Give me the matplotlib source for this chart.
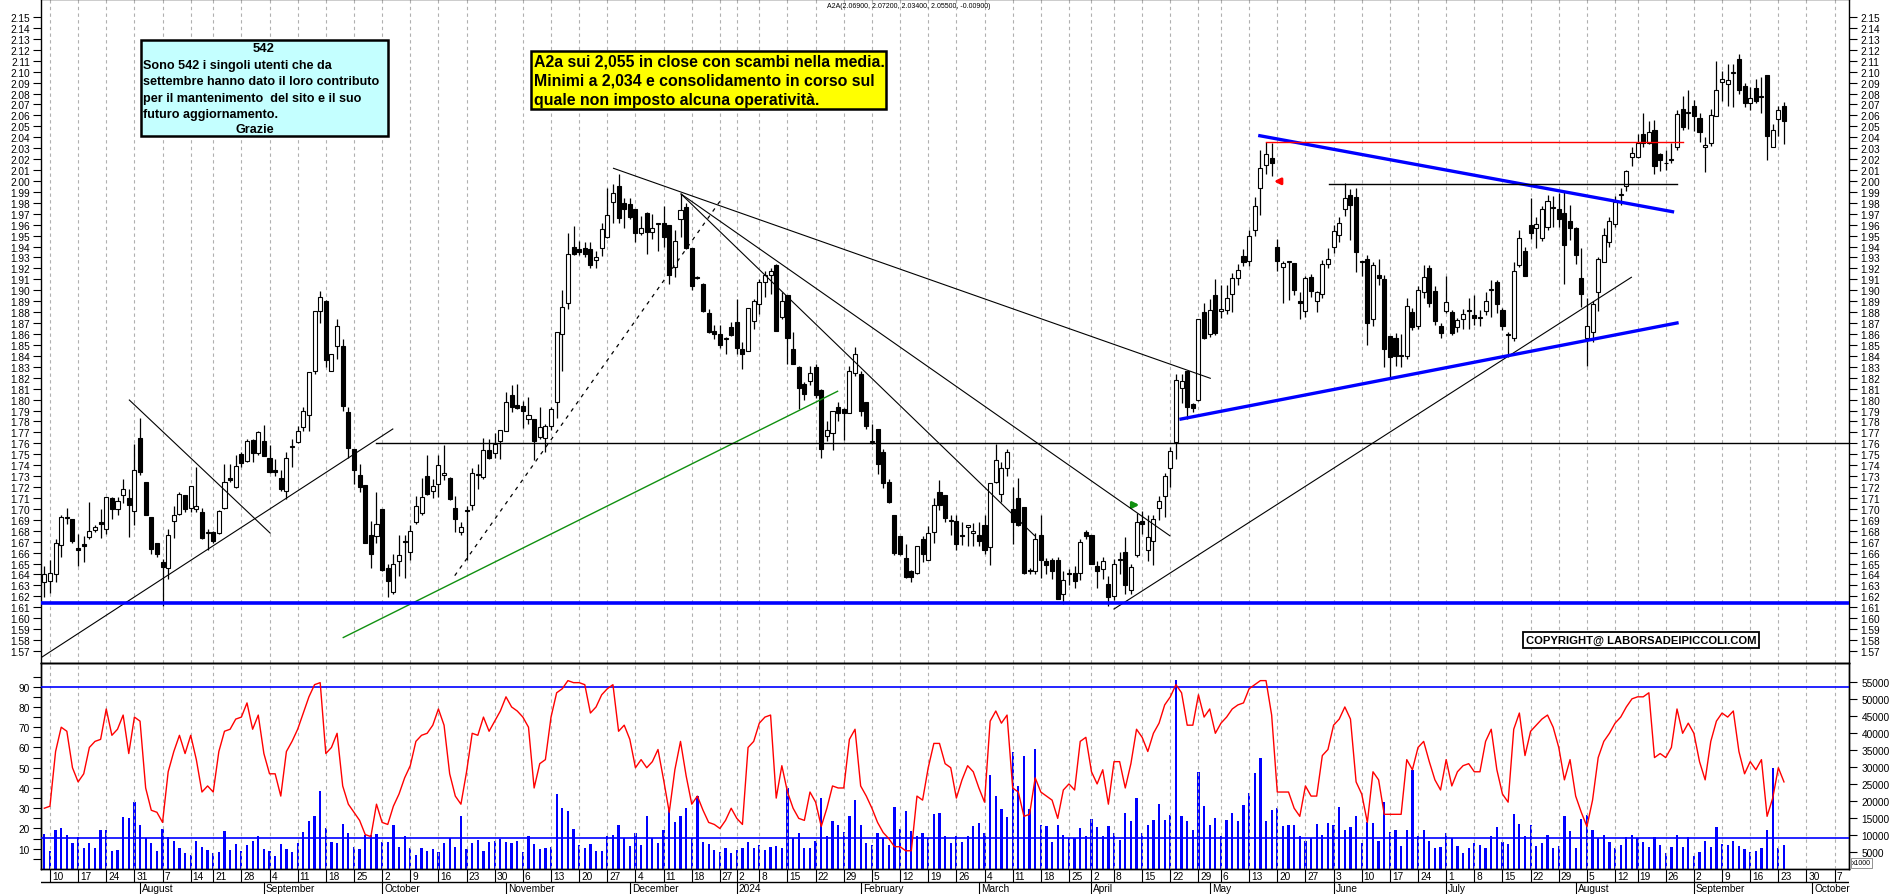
import numpy as np
import matplotlib
matplotlib.use("Agg")
import matplotlib.pyplot as plt

W, H = 1890, 895

# Daily candles, one per trading day (index 0 = 7 Jul 2023, last = 24 Sep 2024)
opens = [
    1.633, 1.634, 1.640, 1.667, 1.692, 1.691, 1.664, 1.668, 1.674, 1.681,
    1.688, 1.682, 1.710, 1.700, 1.713, 1.710, 1.698, 1.765, 1.725, 1.693,
    1.669, 1.651, 1.646, 1.689, 1.695, 1.713, 1.701, 1.700, 1.697, 1.678,
    1.679, 1.678, 1.701, 1.728, 1.720, 1.750, 1.744, 1.763, 1.751, 1.762,
    1.747, 1.736, 1.728, 1.716, 1.757, 1.761, 1.775, 1.786, 1.826, 1.881,
    1.890, 1.826, 1.849, 1.849, 1.789, 1.755, 1.731, 1.722, 1.676, 1.675,
    1.700, 1.646, 1.624, 1.652, 1.670, 1.661, 1.688, 1.696, 1.730, 1.716,
    1.723, 1.731, 1.728, 1.701, 1.679, 1.699, 1.704, 1.731, 1.729, 1.754,
    1.751, 1.762, 1.771, 1.804, 1.795, 1.794, 1.782, 1.782, 1.766, 1.765,
    1.776, 1.798, 1.860, 1.888, 1.940, 1.938, 1.939, 1.938, 1.928, 1.939,
    1.949, 1.981, 1.995, 1.980, 1.979, 1.974, 1.952, 1.971, 1.953, 1.961,
    1.962, 1.960, 1.921, 1.965, 1.976, 1.939, 1.912, 1.906, 1.879, 1.863,
    1.860, 1.855, 1.866, 1.871, 1.846, 1.844, 1.872, 1.887, 1.908, 1.914,
    1.923, 1.876, 1.896, 1.846, 1.830, 1.814, 1.817, 1.830, 1.809, 1.767,
    1.769, 1.793, 1.791, 1.788, 1.824, 1.823, 1.798, 1.761, 1.773, 1.752,
    1.725, 1.694, 1.675, 1.655, 1.643, 1.641, 1.672, 1.653, 1.679, 1.715,
    1.713, 1.689, 1.689, 1.676, 1.683, 1.678, 1.676, 1.685, 1.665, 1.725,
    1.714, 1.737, 1.700, 1.710, 1.702, 1.644, 1.643, 1.676, 1.652, 1.653,
    1.653, 1.622, 1.640, 1.641, 1.641, 1.679, 1.676, 1.648, 1.645, 1.631,
    1.620, 1.653, 1.661, 1.626, 1.658, 1.689, 1.662, 1.671, 1.701, 1.712,
    1.737, 1.761, 1.811, 1.826, 1.796, 1.800, 1.880, 1.860, 1.896, 1.881,
    1.882, 1.897, 1.911, 1.931, 1.927, 1.955, 1.994, 2.015, 2.021, 1.940,
    1.921, 1.926, 1.925, 1.890, 1.881, 1.912, 1.890, 1.897, 1.924, 1.940,
    1.951, 1.974, 1.987, 1.985, 1.926, 1.929, 1.874, 1.914, 1.910, 1.858,
    1.856, 1.841, 1.840, 1.880, 1.867, 1.898, 1.920, 1.899, 1.867, 1.881,
    1.880, 1.866, 1.874, 1.881, 1.877, 1.875, 1.881, 1.900, 1.908, 1.882,
    1.859, 1.856, 1.923, 1.936, 1.960, 1.957, 1.948, 1.958, 1.975, 1.974,
    1.971, 1.963, 1.957, 1.911, 1.856, 1.862, 1.898, 1.926, 1.944, 1.961,
    1.987, 1.995, 2.022, 2.022, 2.043, 2.035, 2.047, 2.025, 2.016, 2.019,
    2.031, 2.066, 2.062, 2.069, 2.058, 2.031, 2.035, 2.059, 2.091, 2.089,
    2.099, 2.112, 2.087, 2.071, 2.085, 2.077, 2.097, 2.031, 2.057, 2.069,
]
highs = [
    1.648, 1.653, 1.672, 1.694, 1.701, 1.691, 1.677, 1.675, 1.706, 1.685,
    1.700, 1.711, 1.711, 1.711, 1.727, 1.718, 1.759, 1.783, 1.725, 1.693,
    1.669, 1.654, 1.682, 1.703, 1.715, 1.713, 1.721, 1.738, 1.701, 1.682,
    1.680, 1.699, 1.741, 1.741, 1.749, 1.752, 1.764, 1.764, 1.771, 1.777,
    1.758, 1.746, 1.736, 1.752, 1.764, 1.776, 1.793, 1.825, 1.881, 1.899,
    1.891, 1.842, 1.874, 1.855, 1.793, 1.755, 1.741, 1.722, 1.689, 1.715,
    1.700, 1.650, 1.659, 1.676, 1.676, 1.685, 1.712, 1.728, 1.749, 1.727,
    1.749, 1.758, 1.729, 1.712, 1.688, 1.703, 1.737, 1.741, 1.765, 1.764,
    1.769, 1.772, 1.807, 1.813, 1.814, 1.799, 1.802, 1.782, 1.793, 1.778,
    1.793, 1.862, 1.900, 1.952, 1.959, 1.945, 1.944, 1.944, 1.936, 1.962,
    1.994, 1.997, 2.006, 1.984, 1.984, 1.974, 1.968, 1.972, 1.970, 1.962,
    1.977, 1.960, 1.955, 1.988, 1.980, 1.939, 1.913, 1.907, 1.883, 1.868,
    1.868, 1.857, 1.871, 1.892, 1.853, 1.884, 1.892, 1.910, 1.918, 1.920,
    1.924, 1.898, 1.896, 1.862, 1.831, 1.816, 1.831, 1.833, 1.810, 1.780,
    1.790, 1.798, 1.792, 1.831, 1.848, 1.826, 1.798, 1.778, 1.773, 1.755,
    1.727, 1.694, 1.675, 1.668, 1.644, 1.666, 1.675, 1.684, 1.710, 1.726,
    1.713, 1.694, 1.694, 1.688, 1.685, 1.687, 1.688, 1.694, 1.724, 1.759,
    1.743, 1.755, 1.720, 1.728, 1.702, 1.646, 1.678, 1.694, 1.655, 1.655,
    1.656, 1.643, 1.645, 1.648, 1.672, 1.681, 1.676, 1.652, 1.656, 1.639,
    1.654, 1.661, 1.674, 1.650, 1.696, 1.698, 1.694, 1.694, 1.712, 1.733,
    1.757, 1.823, 1.823, 1.826, 1.797, 1.874, 1.888, 1.892, 1.910, 1.905,
    1.905, 1.916, 1.924, 1.938, 1.955, 1.985, 2.028, 2.036, 2.035, 1.947,
    1.927, 1.927, 1.925, 1.898, 1.913, 1.915, 1.899, 1.928, 1.939, 1.960,
    1.967, 1.998, 1.993, 1.994, 1.927, 1.932, 1.926, 1.929, 1.914, 1.858,
    1.861, 1.860, 1.893, 1.884, 1.904, 1.923, 1.923, 1.904, 1.870, 1.913,
    1.882, 1.875, 1.883, 1.893, 1.896, 1.882, 1.898, 1.909, 1.909, 1.884,
    1.862, 1.926, 1.955, 1.940, 1.984, 1.967, 1.977, 1.987, 1.986, 1.989,
    1.990, 1.978, 1.958, 1.939, 1.893, 1.890, 1.930, 1.957, 1.967, 1.986,
    1.994, 2.010, 2.031, 2.043, 2.062, 2.055, 2.056, 2.026, 2.028, 2.035,
    2.065, 2.078, 2.083, 2.074, 2.062, 2.040, 2.066, 2.110, 2.101, 2.107,
    2.107, 2.116, 2.090, 2.086, 2.093, 2.095, 2.097, 2.052, 2.069, 2.072,
]
lows = [
    1.619, 1.623, 1.633, 1.656, 1.686, 1.669, 1.648, 1.651, 1.672, 1.679,
    1.673, 1.677, 1.691, 1.694, 1.705, 1.674, 1.685, 1.731, 1.694, 1.659,
    1.656, 1.611, 1.636, 1.673, 1.694, 1.697, 1.697, 1.697, 1.672, 1.662,
    1.669, 1.677, 1.700, 1.725, 1.719, 1.738, 1.743, 1.743, 1.749, 1.748,
    1.733, 1.730, 1.716, 1.709, 1.738, 1.760, 1.771, 1.771, 1.823, 1.870,
    1.830, 1.826, 1.837, 1.790, 1.747, 1.723, 1.715, 1.669, 1.646, 1.669,
    1.643, 1.619, 1.622, 1.639, 1.637, 1.653, 1.686, 1.694, 1.713, 1.710,
    1.711, 1.726, 1.708, 1.679, 1.676, 1.653, 1.699, 1.718, 1.727, 1.746,
    1.747, 1.746, 1.771, 1.789, 1.791, 1.774, 1.778, 1.745, 1.764, 1.752,
    1.772, 1.783, 1.826, 1.883, 1.932, 1.932, 1.930, 1.920, 1.920, 1.931,
    1.948, 1.962, 1.962, 1.957, 1.965, 1.944, 1.951, 1.933, 1.947, 1.936,
    1.940, 1.906, 1.912, 1.949, 1.938, 1.900, 1.910, 1.880, 1.861, 1.855,
    1.847, 1.842, 1.858, 1.842, 1.828, 1.844, 1.865, 1.878, 1.894, 1.897,
    1.863, 1.874, 1.833, 1.833, 1.791, 1.800, 1.813, 1.801, 1.747, 1.762,
    1.754, 1.780, 1.763, 1.788, 1.822, 1.785, 1.773, 1.759, 1.732, 1.719,
    1.705, 1.658, 1.658, 1.637, 1.633, 1.640, 1.651, 1.653, 1.669, 1.699,
    1.688, 1.676, 1.662, 1.667, 1.666, 1.666, 1.666, 1.659, 1.649, 1.724,
    1.706, 1.730, 1.668, 1.684, 1.640, 1.640, 1.640, 1.637, 1.640, 1.636,
    1.618, 1.613, 1.630, 1.628, 1.635, 1.672, 1.650, 1.628, 1.636, 1.611,
    1.617, 1.640, 1.622, 1.622, 1.656, 1.677, 1.652, 1.649, 1.690, 1.693,
    1.720, 1.746, 1.797, 1.782, 1.789, 1.799, 1.855, 1.857, 1.859, 1.875,
    1.878, 1.880, 1.905, 1.922, 1.922, 1.950, 1.969, 2.006, 2.005, 1.918,
    1.888, 1.891, 1.896, 1.874, 1.876, 1.894, 1.880, 1.893, 1.920, 1.934,
    1.944, 1.968, 1.946, 1.917, 1.913, 1.850, 1.867, 1.905, 1.830, 1.820,
    1.831, 1.830, 1.837, 1.864, 1.865, 1.893, 1.885, 1.868, 1.856, 1.879,
    1.859, 1.862, 1.865, 1.865, 1.868, 1.867, 1.877, 1.876, 1.879, 1.864,
    1.839, 1.854, 1.921, 1.913, 1.947, 1.939, 1.945, 1.955, 1.958, 1.958,
    1.906, 1.946, 1.924, 1.885, 1.831, 1.853, 1.881, 1.926, 1.940, 1.958,
    1.978, 1.991, 2.014, 2.021, 2.031, 2.034, 2.006, 2.009, 2.010, 2.016,
    2.028, 2.047, 2.048, 2.046, 2.036, 2.008, 2.032, 2.059, 2.073, 2.069,
    2.068, 2.080, 2.068, 2.065, 2.071, 2.062, 2.019, 2.031, 2.041, 2.034,
]
closes = [
    1.640, 1.641, 1.669, 1.693, 1.692, 1.671, 1.662, 1.666, 1.680, 1.683,
    1.686, 1.711, 1.700, 1.707, 1.718, 1.704, 1.736, 1.734, 1.694, 1.663,
    1.659, 1.647, 1.676, 1.694, 1.714, 1.700, 1.721, 1.703, 1.673, 1.678,
    1.671, 1.698, 1.725, 1.726, 1.739, 1.742, 1.762, 1.751, 1.770, 1.748,
    1.734, 1.734, 1.718, 1.747, 1.757, 1.771, 1.790, 1.825, 1.881, 1.894,
    1.836, 1.842, 1.867, 1.794, 1.756, 1.736, 1.720, 1.669, 1.659, 1.686,
    1.644, 1.634, 1.650, 1.658, 1.670, 1.680, 1.703, 1.711, 1.714, 1.721,
    1.740, 1.733, 1.709, 1.691, 1.683, 1.698, 1.733, 1.731, 1.754, 1.747,
    1.759, 1.772, 1.798, 1.793, 1.792, 1.790, 1.786, 1.762, 1.775, 1.776,
    1.791, 1.862, 1.885, 1.933, 1.933, 1.935, 1.933, 1.923, 1.930, 1.956,
    1.969, 1.989, 1.966, 1.974, 1.967, 1.952, 1.957, 1.953, 1.957, 1.961,
    1.949, 1.914, 1.945, 1.973, 1.939, 1.904, 1.911, 1.881, 1.862, 1.860,
    1.850, 1.855, 1.859, 1.847, 1.842, 1.884, 1.890, 1.908, 1.914, 1.918,
    1.863, 1.890, 1.856, 1.833, 1.811, 1.805, 1.824, 1.804, 1.755, 1.772,
    1.790, 1.788, 1.788, 1.826, 1.842, 1.790, 1.776, 1.761, 1.741, 1.724,
    1.706, 1.660, 1.659, 1.638, 1.638, 1.666, 1.659, 1.678, 1.704, 1.704,
    1.692, 1.689, 1.668, 1.675, 1.685, 1.680, 1.671, 1.662, 1.724, 1.745,
    1.737, 1.752, 1.688, 1.685, 1.641, 1.643, 1.672, 1.653, 1.649, 1.643,
    1.618, 1.635, 1.641, 1.634, 1.670, 1.675, 1.650, 1.643, 1.652, 1.619,
    1.650, 1.653, 1.630, 1.647, 1.688, 1.686, 1.674, 1.691, 1.707, 1.730,
    1.753, 1.818, 1.817, 1.793, 1.792, 1.874, 1.856, 1.882, 1.861, 1.883,
    1.893, 1.911, 1.919, 1.926, 1.950, 1.977, 2.012, 2.025, 2.016, 1.927,
    1.925, 1.926, 1.900, 1.888, 1.911, 1.899, 1.898, 1.924, 1.929, 1.954,
    1.962, 1.984, 1.978, 1.935, 1.926, 1.870, 1.923, 1.911, 1.846, 1.839,
    1.840, 1.840, 1.886, 1.866, 1.900, 1.912, 1.888, 1.872, 1.861, 1.889,
    1.861, 1.873, 1.878, 1.881, 1.875, 1.875, 1.890, 1.901, 1.887, 1.867,
    1.859, 1.918, 1.948, 1.913, 1.952, 1.961, 1.974, 1.982, 1.975, 1.965,
    1.941, 1.957, 1.932, 1.897, 1.867, 1.887, 1.929, 1.951, 1.963, 1.981,
    1.987, 2.009, 2.026, 2.035, 2.035, 2.045, 2.014, 2.019, 2.016, 2.019,
    2.061, 2.049, 2.062, 2.059, 2.045, 2.033, 2.060, 2.083, 2.093, 2.092,
    2.099, 2.083, 2.071, 2.076, 2.073, 2.078, 2.041, 2.047, 2.065, 2.055,
]

# Lower panel: oscillator (left scale) and volume in thousands (right scale)
oscillator = [
    30, 31, 58, 70, 68, 50, 43, 47, 60, 63, 64, 79, 66, 69, 76, 57, 75, 73, 40, 29,
    28, 23, 48, 58, 66, 57, 66, 54, 38, 41, 38, 58, 68, 69, 74, 75, 82, 69, 76, 57,
    47, 47, 36, 58, 63, 69, 77, 85, 91, 92, 57, 60, 67, 41, 32, 28, 24, 17, 16, 32,
    23, 22, 31, 37, 45, 51, 63, 66, 67, 71, 79, 71, 47, 36, 32, 48, 67, 66, 75, 68,
    73, 78, 85, 80, 78, 75, 70, 40, 52, 54, 75, 87, 89, 93, 92, 92, 91, 77, 80, 86,
    89, 91, 68, 71, 64, 50, 54, 50, 53, 59, 44, 28, 49, 63, 46, 32, 36, 29, 23, 22,
    20, 24, 30, 25, 22, 60, 63, 72, 75, 76, 35, 51, 38, 30, 25, 24, 38, 33, 21, 30,
    41, 40, 40, 64, 69, 41, 36, 30, 23, 18, 15, 11, 11, 9, 9, 36, 34, 50, 62, 62,
    52, 50, 35, 44, 51, 48, 40, 33, 73, 78, 72, 76, 40, 38, 26, 27, 45, 38, 36, 34,
    25, 39, 42, 39, 63, 65, 48, 42, 49, 32, 53, 53, 40, 52, 69, 65, 58, 67, 72, 81,
    85, 91, 87, 71, 71, 86, 75, 79, 67, 72, 75, 79, 81, 82, 89, 91, 93, 93, 76, 38,
    38, 38, 30, 26, 41, 36, 36, 56, 59, 71, 74, 80, 74, 43, 37, 23, 48, 44, 27, 27,
    27, 27, 54, 49, 60, 63, 53, 44, 39, 54, 41, 48, 51, 52, 48, 48, 63, 69, 49, 37,
    33, 69, 77, 56, 68, 71, 74, 76, 70, 60, 44, 54, 36, 28, 21, 34, 55, 63, 67, 72,
    75, 80, 84, 85, 85, 87, 55, 57, 55, 60, 79, 67, 72, 67, 53, 44, 63, 73, 77, 75,
    78, 58, 47, 53, 49, 54, 26, 35, 50, 43,
]
volume_k = [
    10.2, 5.3, 11.6, 12.2, 10.0, 7.7, 9.4, 6.3, 7.6, 6.1,
    11.6, 11.6, 5.4, 5.6, 15.3, 15.1, 19.8, 13.0, 9.0, 7.7,
    5.4, 11.8, 9.3, 8.2, 6.3, 4.7, 4.1, 8.2, 6.6, 5.6,
    4.7, 4.9, 11.2, 5.7, 7.4, 5.3, 7.2, 8.3, 9.7, 5.9,
    5.4, 3.9, 7.4, 5.9, 5.1, 7.7, 10.8, 14.0, 15.7, 23.0,
    12.2, 7.9, 7.7, 13.2, 10.6, 6.5, 5.9, 10.0, 10.0, 10.2,
    8.0, 7.9, 13.0, 6.6, 9.6, 6.3, 4.1, 6.1, 5.4, 5.9,
    4.9, 7.6, 9.0, 6.6, 15.6, 5.9, 7.7, 8.6, 5.4, 7.8,
    8.1, 8.8, 7.9, 7.7, 8.2, 5.1, 9.8, 7.4, 5.9, 6.1,
    6.4, 22.1, 17.9, 17.0, 11.8, 7.2, 6.1, 7.3, 5.3, 5.4,
    9.6, 10.0, 12.8, 9.0, 6.9, 10.6, 7.1, 15.5, 9.0, 7.7,
    11.6, 17.8, 13.7, 15.5, 17.8, 9.0, 21.4, 7.9, 7.4, 5.7,
    4.9, 6.1, 4.7, 5.5, 6.3, 7.9, 6.3, 7.2, 5.6, 6.6,
    6.7, 6.1, 23.7, 9.0, 10.6, 6.1, 6.3, 8.2, 20.8, 9.6,
    14.0, 12.9, 11.0, 15.5, 20.3, 12.9, 7.7, 7.2, 10.5, 9.0,
    7.2, 18.1, 11.8, 17.2, 11.3, 9.6, 10.5, 9.1, 16.2, 16.4,
    9.8, 7.7, 9.8, 7.9, 9.6, 12.6, 13.5, 10.6, 27.7, 21.4,
    17.7, 15.4, 34.5, 24.3, 33.3, 17.7, 35.3, 12.9, 12.6, 8.0,
    12.9, 10.0, 9.0, 9.2, 12.0, 9.6, 14.7, 12.3, 9.6, 12.6,
    10.6, 8.6, 16.5, 14.2, 20.8, 10.6, 12.8, 14.5, 19.0, 14.5,
    15.9, 55.6, 15.5, 14.2, 11.6, 28.4, 18.4, 13.0, 14.9, 9.6,
    14.5, 16.4, 14.2, 18.8, 22.3, 28.1, 32.8, 14.2, 17.4, 17.9,
    12.6, 13.0, 13.0, 9.6, 8.3, 9.0, 13.2, 10.0, 13.5, 12.8,
    18.1, 11.5, 12.3, 15.5, 7.6, 13.9, 13.4, 8.3, 19.6, 10.8,
    11.6, 6.9, 11.6, 29.1, 9.6, 11.6, 8.3, 6.1, 6.4, 10.6,
    9.0, 6.9, 4.7, 6.1, 7.7, 7.2, 6.1, 9.6, 12.3, 7.8,
    7.4, 16.1, 13.2, 9.6, 12.8, 6.9, 7.6, 10.1, 6.2, 6.9,
    15.5, 11.1, 6.1, 14.7, 15.9, 11.5, 9.0, 10.0, 7.8, 6.1,
    7.1, 9.3, 10.0, 9.1, 8.0, 6.4, 9.3, 7.1, 4.7, 6.4,
    10.1, 6.4, 9.3, 3.7, 4.9, 8.3, 6.4, 12.3, 7.4, 7.2,
    8.1, 6.7, 5.9, 4.9, 5.4, 6.1, 11.5, 29.6, 6.2, 7.1,
]

# Week starts (candle index of the first session) and their day labels
week_idx = [1, 6, 11, 16, 21, 26, 30, 35, 40, 45, 50, 55, 60, 65, 70, 75, 80, 85,
            90, 95, 100, 105, 110, 115, 120, 123, 127, 132, 137, 142, 147, 152,
            157, 162, 167, 172, 177, 182, 186, 190, 195, 200, 205, 209, 214, 219,
            224, 229, 234, 239, 244, 249, 254, 259, 264, 269, 274, 279, 283, 288,
            293, 298, 303, 308, 313, 318]
week_lbl = ["10", "17", "24", "31", "7", "14", "21", "28", "4", "11", "18", "25",
            "2", "9", "16", "23", "30", "6", "13", "20", "27", "4", "11", "18",
            "27", "2", "8", "15", "22", "29", "5", "12", "19", "26", "4", "11",
            "18", "25", "2", "8", "15", "22", "29", "6", "13", "20", "27", "3",
            "10", "17", "24", "1", "8", "15", "22", "29", "5", "12", "19", "26",
            "2", "9", "16", "23", "30", "7"]
month_idx = [17, 39, 60, 82, 104, 123, 145, 166, 186, 207, 229, 249, 272, 293, 314]
month_lbl = ["August", "September", "October", "November", "December", "2024",
             "February", "March", "April", "May", "June", "July", "August",
             "September", "October"]

# Drawn studies: (start index, start price, end index, end price)
thin_lines = [
    (-0.4, 1.5645, 61.9, 1.7731),
    (15.1, 1.7996, 40.1, 1.6779),
    (101.1, 2.0116, 207.1, 1.8195),
    (113.1, 1.9881, 175.9, 1.6755),
    (113.1, 1.9881, 199.9, 1.6755),
    (190.0, 1.6084, 281.9, 1.9119),
]
green_line = (53.1, 1.5823, 140.9, 1.8076)
dashed_line = (72.9, 1.6389, 120.0, 1.9814)
blue_lines = [(215.9, 2.0414, 289.2, 1.9719), (201.9, 1.7822, 290.0, 1.8701)]
support = 1.614
resistance_176 = (58.9, 1.760)
level_200 = (228.1, 290.0, 1.9972)
level_2035 = (217.0, 291.0, 2.0354)

plt.rcParams["font.family"] = ["Liberation Sans", "DejaVu Sans"]


def fx(px):
    return px / W


def fy(py):
    return 1 - py / H


XMIN, XMAX = -0.59, 320.55
idx = np.arange(len(closes))
o, h, l, c = map(np.array, (opens, highs, lows, closes))

fig = plt.figure(figsize=(W / 100, H / 100), dpi=100)
ax = fig.add_axes([fx(41), fy(664), (1849 - 41) / W, 664 / H])
low = fig.add_axes([fx(41), fy(870), (1849 - 41) / W, (870 - 664) / H])
vol = low.twinx()
dates = fig.add_axes([fx(41), fy(895), (1849 - 41) / W, 25 / H])

grid_kw = dict(color="#b0b0b0", lw=0.8, ls=(0, (3, 3)), zorder=0)

# ---- price panel
for k in week_idx:
    ax.axvline(k, **grid_kw)
    low.axvline(k, **grid_kw)

ax.vlines(idx, l, h, color="black", lw=0.9, zorder=3)
up = c >= o
body = np.maximum(np.abs(c - o), 0.0009)
ax.bar(idx[up], body[up], bottom=o[up], width=0.72, color="white",
       edgecolor="black", lw=0.8, zorder=4)
ax.bar(idx[~up], body[~up], bottom=c[~up], width=0.72, color="black",
       edgecolor="black", lw=0.8, zorder=4)

for x0, y0, x1, y1 in thin_lines:
    ax.plot([x0, x1], [y0, y1], color="black", lw=0.8, zorder=5)
ax.plot(green_line[::2], green_line[1::2], color="#109010", lw=1.0, zorder=5)
ax.plot(dashed_line[::2], dashed_line[1::2], color="black", lw=0.9,
        ls=(0, (3, 4)), zorder=5)
for x0, y0, x1, y1 in blue_lines:
    ax.plot([x0, x1], [y0, y1], color="#0000ff", lw=2.4, zorder=5)
ax.axhline(support, color="#0000ff", lw=2.6, zorder=5)
ax.plot([resistance_176[0], XMAX], [resistance_176[1]] * 2, color="black", lw=1.0, zorder=5)
ax.plot(level_200[:2], [level_200[2]] * 2, color="black", lw=1.0, zorder=5)
ax.plot(level_2035[:2], [level_2035[2]] * 2, color="red", lw=1.0, zorder=5)

ax.annotate("", xy=(217.9, 1.9997), xytext=(220.1, 1.9997),
            arrowprops=dict(arrowstyle="-|>", color="red", lw=2.0, mutation_scale=9))
ax.annotate("", xy=(195.0, 1.7036), xytext=(192.7, 1.7036),
            arrowprops=dict(arrowstyle="-|>", color="#109010", lw=2.0, mutation_scale=9))

ax.set_xlim(XMIN, XMAX)
ax.set_ylim(1.559, 2.1665)
price_ticks = np.round(np.arange(1.57, 2.1501, 0.01), 2)
ax.set_yticks(price_ticks)
ax.set_yticklabels([f"{t:.2f}" for t in price_ticks])
ax.tick_params(axis="y", which="both", left=True, right=True, labelleft=True,
               labelright=True, direction="out", length=6, width=0.8, pad=2,
               labelsize=7.3)
ax.set_xticks([])
for s in ax.spines.values():
    s.set_linewidth(1.0)

# Notes boxes
fig.patches.append(plt.Rectangle((fx(141), fy(137)), (388 - 141) / W, (137 - 41) / H,
                                 transform=fig.transFigure, fc="#c4ffff", ec="black",
                                 lw=1.8, zorder=10))
fig.text(fx(264), fy(49), "542", ha="center", va="center", fontsize=9.4,
         fontweight="bold", zorder=11)
cyan_lines = ["Sono 542 i singoli utenti che da",
              "settembre hanno dato il loro contributo",
              "per il mantenimento  del sito e il suo",
              "futuro aggiornamento."]
for i, t in enumerate(cyan_lines):
    fig.text(fx(143), fy(66 + 16.3 * i), t, ha="left", va="center", fontsize=9.1,
             fontweight="bold", zorder=11)
fig.text(fx(255), fy(130), "Grazie", ha="center", va="center", fontsize=9.1,
         fontweight="bold", zorder=11)

fig.patches.append(plt.Rectangle((fx(531), fy(110)), (886 - 531) / W, (110 - 52) / H,
                                 transform=fig.transFigure, fc="#ffff00", ec="black",
                                 lw=1.8, zorder=10))
yellow_lines = ["A2a sui 2,055 in close con scambi nella media.",
                "Minimi a 2,034 e consolidamento in corso sul",
                "quale non imposto alcuna operatività."]
for i, t in enumerate(yellow_lines):
    fig.text(fx(534), fy(62 + 19 * i), t, ha="left", va="center", fontsize=11.4,
             fontweight="bold", zorder=11)

fig.text(fx(1641), fy(641), "COPYRIGHT@ LABORSADEIPICCOLI.COM", ha="center",
         va="center", fontsize=8.1, fontweight="bold", zorder=11,
         bbox=dict(boxstyle="square,pad=0.22", fc="white", ec="black", lw=1.3))

fig.text(fx(827), fy(7), "A2A(2.06900, 2.07200, 2.03400, 2.05500, -0.00900)",
         ha="left", va="center", fontsize=5.0)

# ---- oscillator / volume panel
vol.bar(idx, volume_k, width=0.4, color="#0000ff", zorder=2)
low.plot(idx, oscillator, color="red", lw=1.0, zorder=4)
low.axhline(90, color="#0000ff", lw=1.2, zorder=3)
low.axhline(15.3, color="#0000ff", lw=1.2, zorder=3)
low.set_zorder(vol.get_zorder() + 1)
low.patch.set_visible(False)

low.set_xlim(XMIN, XMAX)
low.set_ylim(0, 101.7)
vol.set_ylim(0, 60.6)
low.set_xticks([])
low.set_yticks(np.arange(5, 100, 5), minor=True)
low.set_yticks(np.arange(10, 100, 10))
low.tick_params(axis="y", which="both", direction="out", length=6, width=0.8,
                pad=2, labelsize=7.3)
vol_ticks = np.arange(5, 56, 5)
vol.set_yticks(vol_ticks)
vol.set_yticklabels([f"{int(v * 1000)}" for v in vol_ticks])
vol.tick_params(axis="y", direction="out", length=6, width=0.8, pad=3, labelsize=7.3)
for s in list(low.spines.values()) + list(vol.spines.values()):
    s.set_linewidth(1.0)
fig.text(fx(1852), fy(864), "x1000", fontsize=5, ha="left", va="center",
         bbox=dict(boxstyle="square,pad=0.15", fc="white", ec="#808080", lw=0.6))

# ---- date rows
dates.set_xlim(XMIN, XMAX)
dates.set_ylim(25, 0)
dates.axis("off")
dates.axhline(13, color="black", lw=1.0)
dates.vlines(week_idx, 0, 13, color="black", lw=0.8)
for k, t in zip(week_idx, week_lbl):
    dates.text(k + 0.35, 7, t, ha="left", va="center", fontsize=7.3)
dates.vlines(month_idx, 13, 25, color="black", lw=0.8)
for k, t in zip(month_idx, month_lbl):
    dates.text(k + 0.35, 19.5, t, ha="left", va="center", fontsize=7.3)

fig.savefig("out.png", dpi=100)
